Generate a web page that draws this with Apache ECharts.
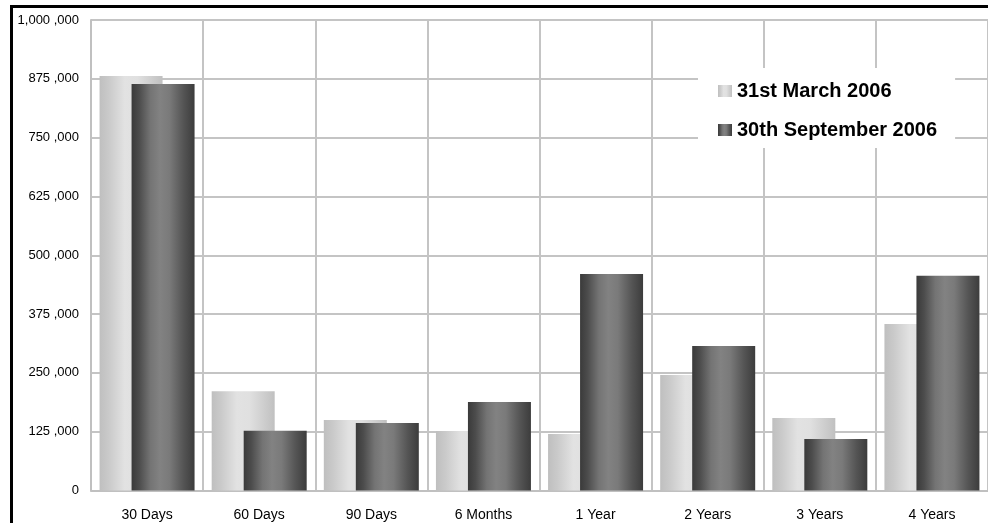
<!DOCTYPE html>
<html>
<head>
<meta charset="utf-8">
<script src="https://cdn.jsdelivr.net/npm/echarts@6/dist/echarts.min.js"></script>
<style>
  html, body { margin: 0; padding: 0; background: #fff; }
  #chart { width: 988px; height: 523px; }
</style>
</head>
<body>
<div id="chart"></div>
<script>
// Outstanding balances by age band at two reporting dates
const categories = ['30 Days', '60 Days', '90 Days', '6 Months', '1 Year', '2 Years', '3 Years', '4 Years'];
const seriesNames = ['31st March 2006', '30th September 2006'];
const march2006 = [881000, 211000, 150000, 126500, 120000, 245500, 154000, 354000];
const september2006 = [864000, 127000, 143500, 188000, 460000, 307000, 109500, 456500];
const yTickLabels = ['0', '125 ,000', '250 ,000', '375 ,000', '500 ,000', '625 ,000', '750 ,000', '875 ,000', '1,000 ,000'];

const FONT = 'Liberation Sans, Arial, sans-serif';

function hGradient(stops) {
  return new echarts.graphic.LinearGradient(0, 0, 1, 0,
    stops.map(function (s) { return { offset: s[0], color: s[1] }; }));
}

// Cylinder-like shading across each bar
const lightFill = hGradient([
  [0, '#bfbfbf'], [0.15, '#cacaca'], [0.4, '#e2e2e2'], [0.6, '#e0e0e0'], [0.85, '#cccccc'], [1, '#c0c0c0']
]);
const darkFill = hGradient([
  [0, '#3a3a3a'], [0.12, '#4c4c4c'], [0.3, '#747474'], [0.45, '#828282'], [0.6, '#7a7a7a'], [0.82, '#555555'], [1, '#3c3c3c']
]);

const chart = echarts.init(document.getElementById('chart'), null, { renderer: 'canvas' });

chart.setOption({
  animation: false,
  backgroundColor: '#ffffff',
  textStyle: { fontFamily: FONT },
  graphic: [{
    type: 'rect',
    z: 100,
    silent: true,
    shape: { x: 11.5, y: 6.5, width: 1100, height: 1000 },
    style: { fill: 'none', stroke: '#000000', lineWidth: 3 }
  }],
  grid: { left: 91, top: 20, width: 900, height: 470.5, containLabel: false },
  legend: {
    data: seriesNames,
    orient: 'vertical',
    left: 698,
    top: 68,
    padding: [13, 18, 8, 20],
    backgroundColor: '#ffffff',
    itemWidth: 14,
    itemHeight: 12,
    itemGap: 19,
    icon: 'rect',
    textStyle: { fontFamily: FONT, fontSize: 20, fontWeight: 'bold', color: '#000000' },
    z: 20
  },
  xAxis: {
    type: 'category',
    data: categories,
    boundaryGap: true,
    axisLine: { show: true, lineStyle: { color: '#c0c0c0', width: 2 } },
    axisTick: { show: false },
    splitLine: { show: true, lineStyle: { color: '#c4c4c4', width: 2 } },
    axisLabel: { color: '#000000', fontSize: 14, fontFamily: FONT, margin: 18, interval: 0 }
  },
  yAxis: {
    type: 'value',
    min: 0,
    max: 1000000,
    interval: 125000,
    axisLine: { show: true, lineStyle: { color: '#c0c0c0', width: 2 } },
    axisTick: { show: false },
    splitLine: { show: true, lineStyle: { color: '#c4c4c4', width: 2 } },
    axisLabel: {
      color: '#000000', fontSize: 13, fontFamily: FONT, margin: 12,
      formatter: function (v) { return yTickLabels[Math.round(v / 125000)]; }
    }
  },
  series: [
    {
      name: seriesNames[0],
      type: 'bar',
      data: march2006,
      barWidth: 63,
      barGap: '-49.2%',
      itemStyle: { color: lightFill }
    },
    {
      name: seriesNames[1],
      type: 'bar',
      data: september2006,
      barWidth: 63,
      barGap: '-49.2%',
      itemStyle: { color: darkFill }
    }
  ]
});
</script>
</body>
</html>
